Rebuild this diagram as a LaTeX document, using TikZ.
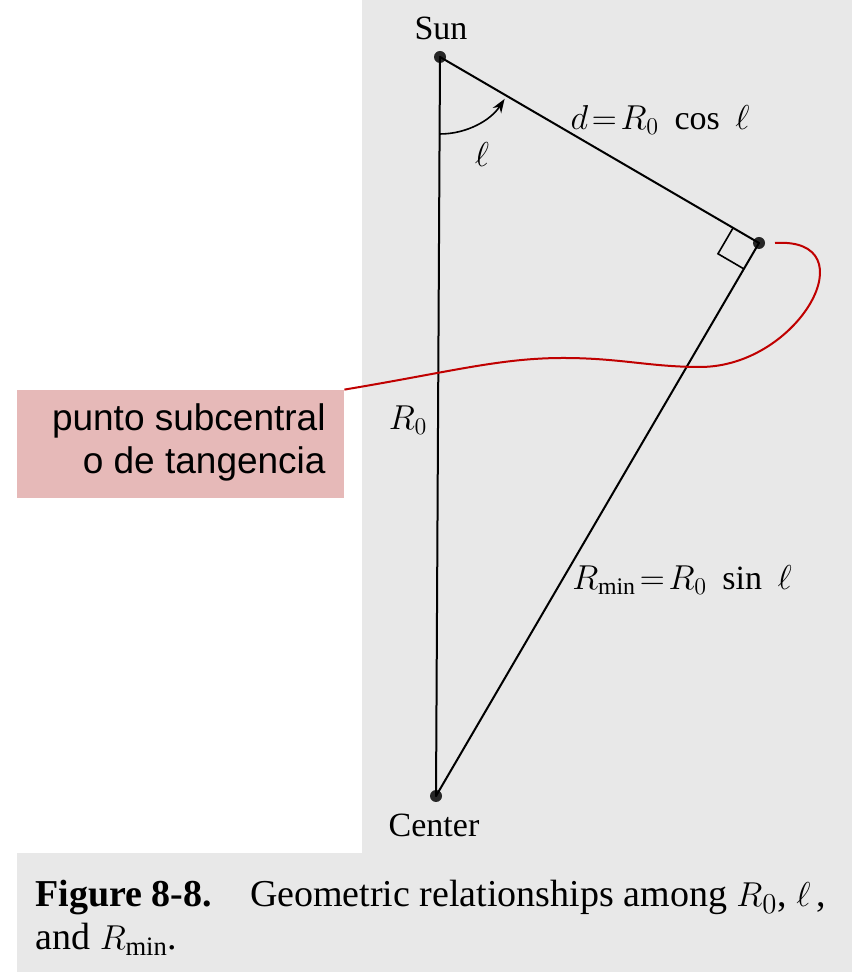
\documentclass[tikz,border=0pt]{standalone}
\usepackage{fontspec}
\setmainfont{Liberation Serif}
\newfontfamily\notefont{Liberation Sans}
\usetikzlibrary{calc,arrows.meta}
\definecolor{pagegray}{RGB}{232,232,232}
\definecolor{notepink}{RGB}{230,185,184}
\definecolor{notered}{RGB}{192,0,0}
\tikzstyle{leg}=[line width=1pt, line cap=round]
\tikzstyle{dot}=[circle, fill=black!85, inner sep=0pt, minimum size=6pt]
\tikzstyle{book}=[font=\fontsize{17}{20}\selectfont, inner sep=0pt]
\tikzstyle{pointer}=[notered, line width=1pt]

\begin{document}
\begin{tikzpicture}[x=0.5pt,y=0.5pt]
				\useasboundingbox (0,0) rectangle (852,972);
				% scanned page
				\fill[pagegray] (362,119) rectangle (852,972);
				\fill[pagegray] (17,0) rectangle (852,119);

				\node[dot] (sun) at (440,915) {};
				\node[dot] (tan) at (759,729) {};
				\node[dot] (cen) at (436,176) {};

				\draw[leg] (sun.center) -- (cen.center);
				\draw[leg] (sun.center) -- (tan.center);
				\draw[leg] (tan.center) -- (cen.center);

				% right angle
				\coordinate (sqa) at ($(tan.center)!15pt!(sun.center)$);
				\coordinate (sqb) at ($(tan.center)!15pt!(cen.center)$);
				\draw[line width=0.8pt] (sqa) -- ($(sqa)+(sqb)-(tan.center)$) -- (sqb);

				% angle l
				\draw[line width=0.8pt, -{Stealth[length=7pt,width=5pt]}] ($(sun.center)+(-90:77)$) arc[start angle=-90, end angle=-33, radius=38.5pt];

				\node[book] (sunlbl) at (441,944) {Sun};
				\node[book] (cenlbl) at (434,147) {Center};
				\node[book] (ang) at (482,817) {$\ell$};
				\node[book] (dlbl) at (660,852) {$d\!=\!R_0\;\cos\;\ell$};
				\node[book] (rlbl) at (408,552) {$R_0$};
				\node[book] (rminlbl) at (682,392) {$R_{\mathrm{min}}\!=\!R_0\;\sin\;\ell$};

				% note
				\node[fill=notepink, inner sep=0pt, minimum width=163.5pt, minimum height=54pt] (note) at (180.5,528) {};
				\node[anchor=east, align=right, inner sep=0pt, font=\notefont\fontsize{18.5}{21.5}\selectfont] (notetext) at (326,530) {punto subcentral\\o de tangencia};

				\coordinate (crest) at (563,614);
				\coordinate (dip) at (700,605);
				\coordinate (hook) at (775,729);
				\draw[pointer] (note.north east) .. controls (450,600) and (500,614) .. (crest) .. controls (620,614) and (650,605) .. (dip) .. controls (800,605) and (870,735) .. (hook);

				\node[anchor=north west, align=left, inner sep=0pt, font=\fontsize{19}{21.5}\selectfont] (caption) at (35,92) {\textbf{Figure 8-8.}\quad Geometric relationships among $R_0$, $\ell$\,,\\and $R_{\mathrm{min}}$.};
			\end{tikzpicture}
\end{document}
